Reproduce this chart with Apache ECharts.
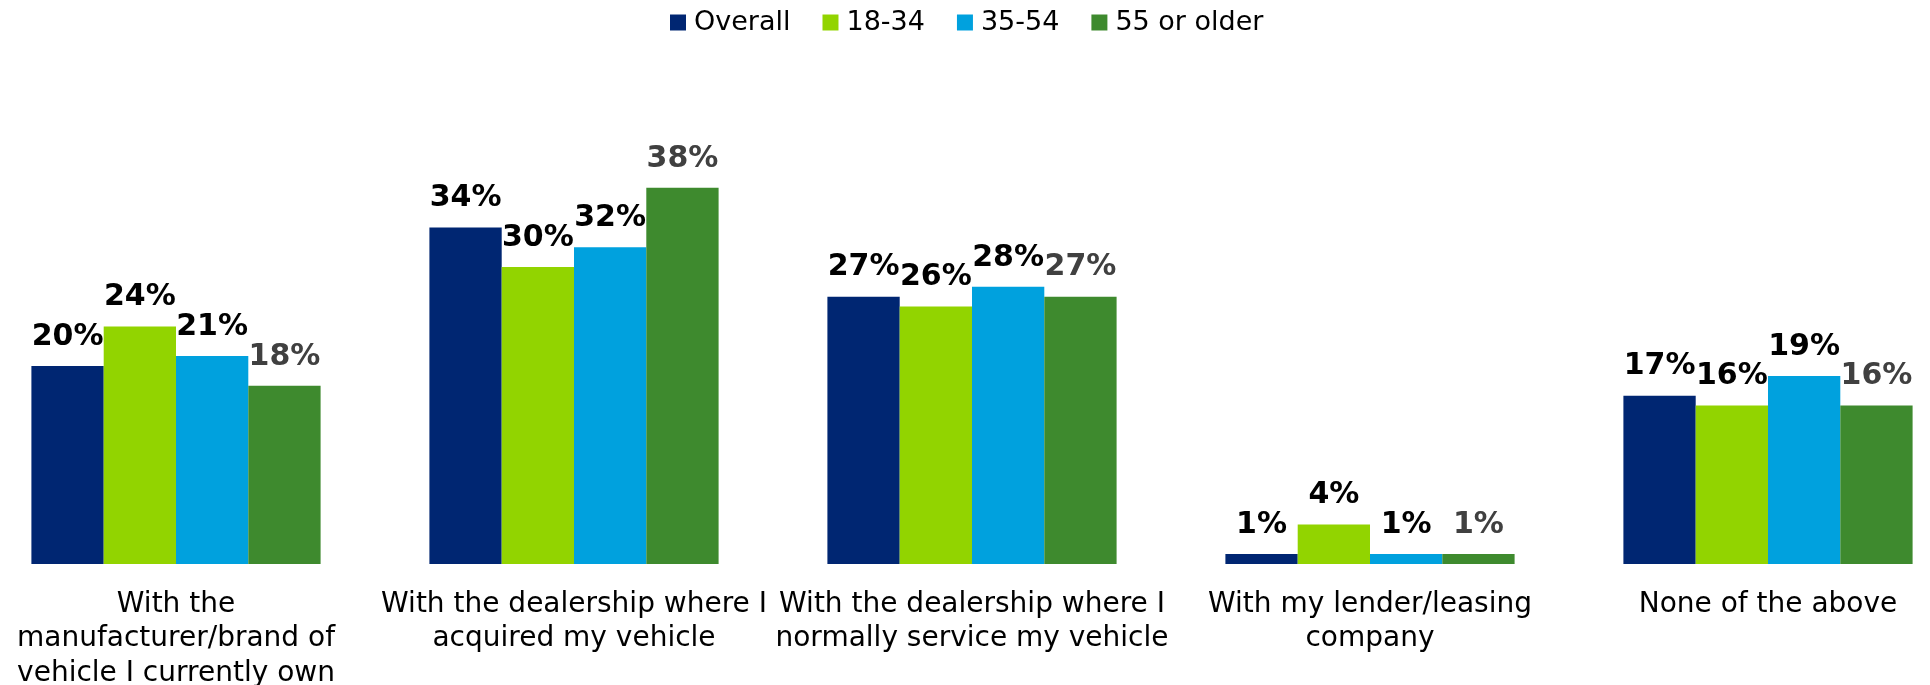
<!DOCTYPE html>
<html>
<head>
<meta charset="utf-8">
<title>Vehicle relationship by age group</title>
<script src="https://cdn.jsdelivr.net/npm/echarts@6/dist/echarts.min.js"></script>
<style>
  html, body { margin: 0; padding: 0; background: #ffffff; }
  #frame { position: relative; width: 1930px; height: 685px; overflow: hidden; }
  /* the outer category bands run slightly past the frame edges */
  #chart { position: absolute; left: -23px; top: 0; width: 1990px; height: 685px; }
</style>
</head>
<body>
<div id="frame"><div id="chart"></div></div>
<script>
// Answer categories (line breaks as shown under the axis)
const categories = [
  'With the\nmanufacturer/brand of\nvehicle I currently own',
  'With the dealership where I\nacquired my vehicle',
  'With the dealership where I\nnormally service my vehicle',
  'With my lender/leasing\ncompany',
  'None of the above'
];

// Share of respondents (%) per age group
const overall   = [20, 34, 27, 1, 17];
const age18to34 = [24, 30, 26, 4, 16];
const age35to54 = [21, 32, 28, 1, 19];
const age55plus = [18, 38, 27, 1, 16];

const seriesNames = ['Overall', '18-34', '35-54', '55 or older'];
const seriesData = [overall, age18to34, age35to54, age55plus];
const seriesColors = ['#002672', '#92D400', '#00A1DE', '#3E8A2E'];
const labelColors = ['#000000', '#000000', '#000000', '#404040'];

const chart = echarts.init(document.getElementById('chart'), null, { renderer: 'canvas' });

const series = seriesNames.map((name, i) => ({
  name: name,
  type: 'bar',
  data: seriesData[i],
  barWidth: 72.3,
  barGap: '0%',
  itemStyle: { color: seriesColors[i] },
  label: {
    show: true,
    position: 'top',
    distance: 14,
    formatter: '{c}%',
    fontFamily: 'DejaVu Sans',
    fontWeight: 'bold',
    fontSize: 30,
    color: labelColors[i]
  },
  emphasis: { disabled: true }
}));

chart.setOption({
  animation: false,
  backgroundColor: '#ffffff',
  legend: {
    data: seriesNames,
    left: 688,
    top: 4,
    icon: 'rect',
    itemWidth: 16,
    itemHeight: 16,
    itemGap: 32,
    textStyle: {
      fontFamily: 'DejaVu Sans',
      fontSize: 27,
      color: '#000000',
      padding: [0, 0, 0, 3]
    }
  },
  grid: {
    left: 0,
    right: 0,
    top: 168,
    bottom: 121,
    containLabel: false,
    outerBoundsMode: 'none'
  },
  xAxis: {
    type: 'category',
    data: categories,
    axisLine: { show: false },
    axisTick: { show: false },
    axisLabel: {
      interval: 0,
      margin: 23,
      fontFamily: 'DejaVu Sans',
      fontSize: 28,
      lineHeight: 34.5,
      color: '#000000',
      align: 'center',
      verticalAlign: 'top'
    }
  },
  yAxis: {
    type: 'value',
    min: 0,
    max: 40,
    show: false,
    splitLine: { show: false }
  },
  series: series
});
</script>
</body>
</html>
